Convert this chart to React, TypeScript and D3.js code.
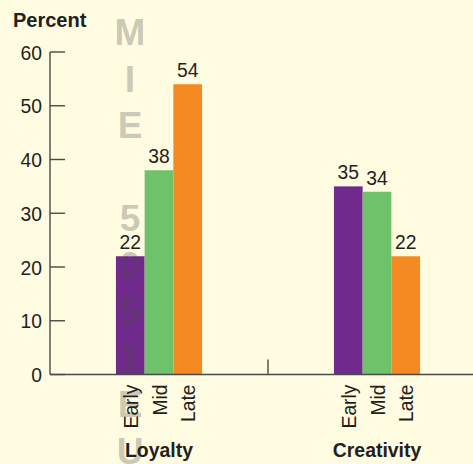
import React from "react";
import * as d3 from "d3";

const groups = ["Loyalty", "Creativity"];
const stages = ["Early", "Mid", "Late"];
const loyaltyValues = [22, 38, 54];
const creativityValues = [35, 34, 22];
const yTicks = [0, 10, 20, 30, 40, 50, 60];
const watermark = ["M", "I", "E", "", "5", "0", "5", "1", "E", "U"];
const colors = ["#702a8c", "#6ec26a", "#f58a22"];

const W = 473;
const H = 464;
const axisX = 50;
const FONT = "'Liberation Sans', Arial, sans-serif";
const SX = 0.92;

export default function App() {
  const seriesByGroup: Record<string, number[]> = {
    Loyalty: loyaltyValues,
    Creativity: creativityValues,
  };
  const y = d3.scaleLinear().domain([0, 60]).range([374.5, 52]);
  const x0 = d3
    .scaleBand<string>()
    .domain(groups)
    .range([axisX, 486])
    .paddingInner(0.605)
    .paddingOuter(0.3025);
  const x1 = d3.scaleBand<string>().domain(stages).range([0, x0.bandwidth()]).padding(0);
  const axisColor = "#4a4a4a";
  const textColor = "#231f20";
  const dividerX = (x0("Loyalty")! + x0.bandwidth() + x0("Creativity")!) / 2;

  return (
    <svg
      width={W}
      height={H}
      style={{ position: "absolute", left: 0, top: 0 }}
      fontFamily={FONT}
    >
      <rect x={0} y={0} width={W} height={H} fill="#fffce1" />
      {/* Percent title */}
      <text x={13} y={27} fontSize={20} fontWeight="bold" fill={textColor}>
        Percent
      </text>
      {/* y axis */}
      <line x1={axisX} x2={axisX} y1={y(60)} y2={y(0)} stroke={axisColor} strokeWidth={1.4} />
      {yTicks.map((t) => (
        <g key={t}>
          <line x1={axisX} x2={axisX + 15} y1={y(t)} y2={y(t)} stroke={axisColor} strokeWidth={1.4} />
          <text
            transform={`translate(42,${y(t)}) scale(${SX},1)`}
            dy="0.36em"
            textAnchor="end"
            fontSize={21}
            fill={textColor}
          >
            {t}
          </text>
        </g>
      ))}
      {/* bars */}
      {groups.map((g) =>
        seriesByGroup[g].map((v, i) => (
          <rect
            key={g + i}
            x={x0(g)! + x1(stages[i])!}
            y={y(v)}
            width={x1.bandwidth()}
            height={y(0) - y(v)}
            fill={colors[i]}
          />
        ))
      )}
      {/* baseline */}
      <line x1={axisX} x2={W} y1={y(0)} y2={y(0)} stroke={axisColor} strokeWidth={1.4} />
      <line x1={dividerX} x2={dividerX} y1={y(0) - 15} y2={y(0)} stroke={axisColor} strokeWidth={1.4} />
      {/* watermark */}
      {watermark.map((c, i) => (
        <text
          key={"wm" + i}
          x={130}
          y={45 + i * 46.5}
          textAnchor="middle"
          fontSize={37}
          fontWeight="bold"
          fill="#4a4a4a"
          fillOpacity={0.3}
        >
          {c}
        </text>
      ))}
      {/* value labels */}
      {groups.map((g) =>
        seriesByGroup[g].map((v, i) => (
          <text
            key={"v" + g + i}
            transform={`translate(${x0(g)! + x1(stages[i])! + x1.bandwidth() / 2},${y(v) - 7}) scale(${SX},1)`}
            textAnchor="middle"
            fontSize={21}
            fill={textColor}
          >
            {v}
          </text>
        ))
      )}
      {/* stage labels */}
      {groups.map((g) =>
        stages.map((s) => {
          const cx = x0(g)! + x1(s)! + x1.bandwidth() / 2;
          return (
            <text
              key={"s" + g + s}
              transform={`translate(${cx},${y(0) + 10}) rotate(-90) scale(${SX},1)`}
              dy="0.36em"
              textAnchor="end"
              fontSize={21}
              fill={textColor}
            >
              {s}
            </text>
          );
        })
      )}
      {/* group labels */}
      {groups.map((g) => (
        <text
          key={"g" + g}
          transform={`translate(${x0(g)! + x0.bandwidth() / 2},457) scale(0.925,1)`}
          textAnchor="middle"
          fontSize={21}
          fontWeight="bold"
          fill={textColor}
        >
          {g}
        </text>
      ))}
    </svg>
  );
}
